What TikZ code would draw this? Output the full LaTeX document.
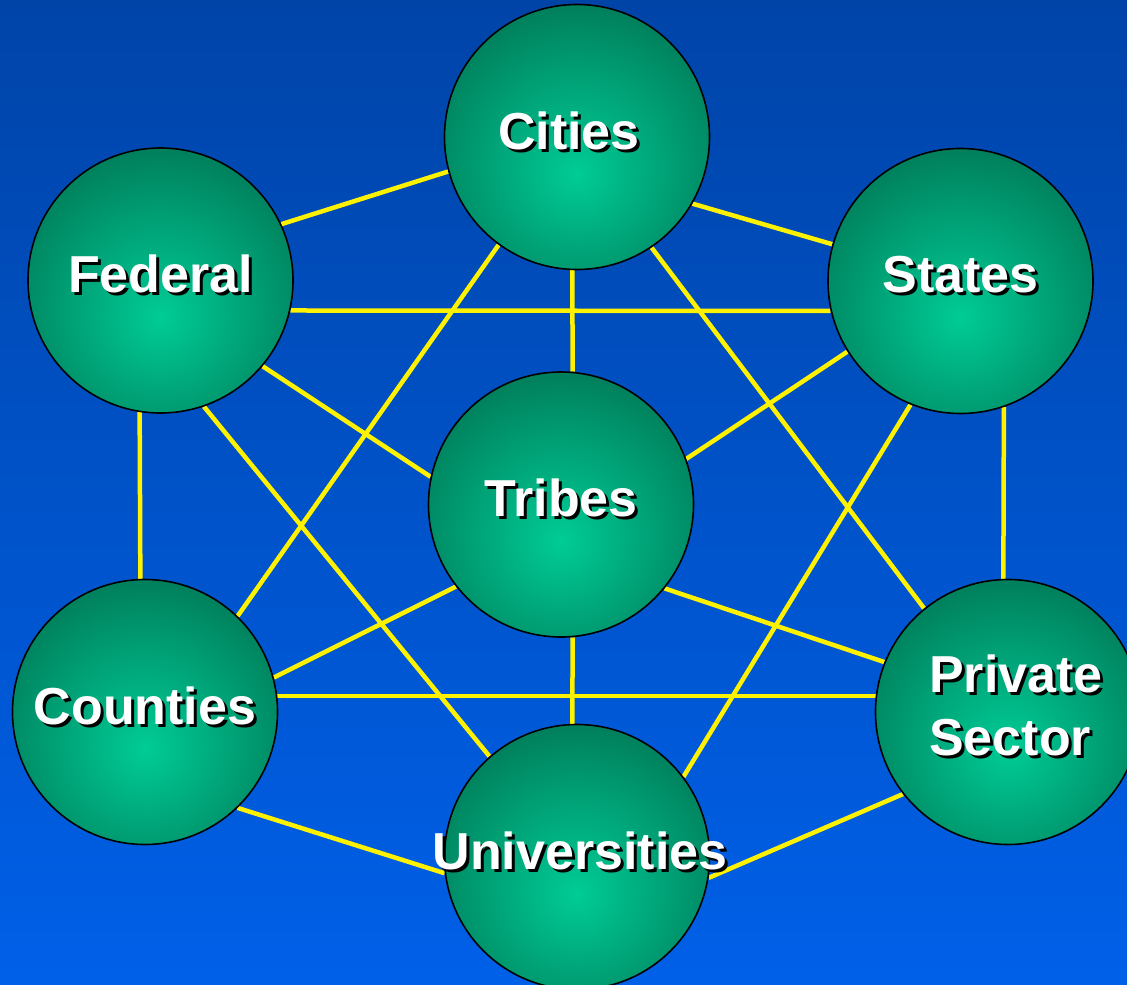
\documentclass[tikz,border=0pt]{standalone}
\usepackage{fontspec}
\setmainfont{Liberation Sans}
\usetikzlibrary{backgrounds}

\definecolor{fondoarriba}{RGB}{0,68,168}
\definecolor{fondoabajo}{RGB}{0,96,232}
\definecolor{verdeclaro}{RGB}{0,204,150}
\definecolor{verdemedio}{RGB}{0,138,100}
\definecolor{verdeoscuro}{RGB}{0,96,70}

\pgfdeclareradialshading{esfera}{\pgfpoint{0bp}{-7bp}}{%
  color(0bp)=(verdeclaro); color(26bp)=(verdemedio); color(40bp)=(verdeoscuro); color(100bp)=(verdeoscuro)}

\newcommand\sombra[1]{\rlap{\smash{\kern3pt\lower3pt\hbox{\color{black}#1}}}#1}

\tikzset{
  estilo red/.style={
      x=1pt, y=-1pt,
      entidad/.style={circle, draw=black, line width=1.6pt, minimum size=265pt, inner sep=0pt,
          shading=esfera, text=white, text depth=13pt,
          font={\fontsize{52}{63}\selectfont\bfseries}},
      enlace/.style={draw=yellow, line width=4.5pt},
    },
}

\begin{document}
\begin{tikzpicture}[estilo red]
            \useasboundingbox (0,0) rectangle (1127,985);

            \node[entidad] (cities) at (577,137) {\kern-16pt\sombra{Cities}};
            \node[entidad] (federal) at (160.5,280.5) {\sombra{Federal}};
            \node[entidad] (states) at (960.5,281) {\sombra{States}};
            \node[entidad] (tribes) at (561,504.5) {\sombra{Tribes}};
            \node[entidad] (counties) at (145,712) {\sombra{Counties}};
            \node[entidad, align=left] (private) at (1008,712) {\kern16pt\sombra{Private}\\\kern16pt\sombra{Sector}};
            \node[entidad] (universities) at (577,857) {\makebox[0pt]{\kern6pt\sombra{Universities}}};

            \begin{pgfonlayer}{background}
              \fill[top color=fondoarriba, bottom color=fondoabajo] (0,0) rectangle (1127,985);
              \draw[enlace] (cities.195) -- (federal.25);
              \draw[enlace] (cities.-30) -- (states.164);
              \draw[enlace] (cities.-92) -- (tribes.85);
              \draw[enlace] (cities.234) -- (counties.46);
              \draw[enlace] (cities.-56) -- (private.129);
              \draw[enlace] (federal.-13) -- (states.193);
              \draw[enlace] (federal.-40) -- (tribes.168);
              \draw[enlace] (federal.-71) -- (universities.131);
              \draw[enlace] (federal.-99) -- (counties.92);
              \draw[enlace] (states.212) -- (tribes.20);
              \draw[enlace] (states.248) -- (universities.37);
              \draw[enlace] (states.-71) -- (private.92);
              \draw[enlace] (tribes.218) -- (counties.15);
              \draw[enlace] (tribes.-39) -- (private.158);
              \draw[enlace] (tribes.-85) -- (universities.92);
              \draw[enlace] (counties.7) -- (private.173);
              \draw[enlace] (counties.-46) -- (universities.187);
              \draw[enlace] (private.218) -- (universities.-9);
            \end{pgfonlayer}
          \end{tikzpicture}
\end{document}
